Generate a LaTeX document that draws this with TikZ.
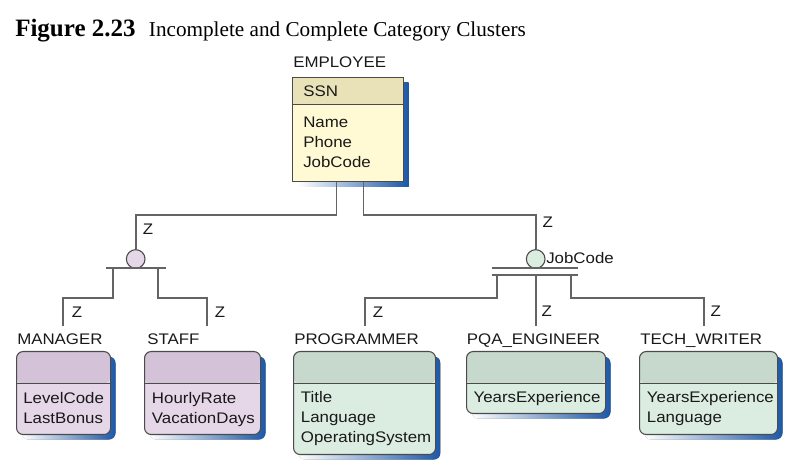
\documentclass[tikz,border=0pt]{standalone}
\usepackage{fontspec}
\setmainfont{Liberation Serif}
\setsansfont{Liberation Sans}[FakeStretch=1.1]
\usetikzlibrary{shadows}
\definecolor{empBody}{RGB}{255,250,212}
\definecolor{empHead}{RGB}{233,226,184}
\definecolor{purBody}{RGB}{229,214,232}
\definecolor{purHead}{RGB}{211,194,216}
\definecolor{grnBody}{RGB}{219,236,224}
\definecolor{grnHead}{RGB}{199,217,204}
\definecolor{edge}{RGB}{75,75,75}
\definecolor{wire}{RGB}{100,100,100}
\definecolor{shadowBlue}{RGB}{28,88,168}
\definecolor{ink}{RGB}{25,25,25}
\tikzset{
  conn/.style={draw=wire, line width=1.3pt},
  head/.style 2 args={
    path picture={
      \fill[#1] (path picture bounding box.north west) rectangle
        ([yshift=-#2]path picture bounding box.north east);
      \draw[edge, line width=0.8pt] ([yshift=-#2]path picture bounding box.north west) --
        ([yshift=-#2]path picture bounding box.north east);
    }},
  blueshadow/.style={drop shadow={shadow xshift=3.75pt, shadow yshift=-3.75pt,
      opacity=1, left color=white, right color=shadowBlue}},
  supbox/.style={draw=edge, line width=0.8pt, anchor=north west, inner sep=0pt,
    fill=empBody, head={empHead}{20.25pt}, blueshadow},
  subbox/.style={draw=edge, line width=0.8pt, anchor=north west, inner sep=0pt,
    rounded corners=5pt, blueshadow},
  purple/.style={subbox, fill=purBody, head={purHead}{24pt}},
  green/.style={subbox, fill=grnBody, head={grnHead}{24pt}},
  etitle/.style={anchor=base west, inner sep=0pt, text=ink,
    font=\fontsize{11.5}{15}\selectfont\sffamily},
  attr/.style={etitle, align=left},
  zlab/.style={inner sep=0pt, text=ink, font=\fontsize{11.5}{15}\selectfont\sffamily},
  cat/.style={circle, draw=edge, line width=0.8pt, minimum size=14pt, inner sep=0pt},
}
\begin{document}
\begin{tikzpicture}[x=0.75pt, y=-0.75pt]
    \useasboundingbox (0,0) rectangle (800,473);

    %title
    \node[anchor=base west, inner sep=0pt] (title) at (15,37)
    {\fontsize{18.75}{20}\selectfont\bfseries Figure 2.23\hspace{10pt}%
     \fontsize{15.9}{18}\selectfont\mdseries Incomplete and Complete Category Clusters};

    %supertype (attr nodes sit on the baseline of their last line)
    \node[supbox, minimum width=83.25pt, minimum height=78pt] (emp) at (292,77) {};
    \node[etitle] (empT) at (293,68) {EMPLOYEE};
    \node[etitle] (empK) at (303,96.7) {SSN};
    \node[attr] (empA) at (303,167.5) {Name\\Phone\\JobCode};

    %subtypes
    \node[purple, minimum width=70.5pt, minimum height=62.25pt] (mgr) at (16,351) {};
    \node[etitle] (mgrT) at (17,345) {MANAGER};
    \node[attr] (mgrA) at (23,424) {LevelCode\\LastBonus};

    \node[purple, minimum width=87pt, minimum height=62.25pt] (stf) at (144,351) {};
    \node[etitle] (stfT) at (147,345) {STAFF};
    \node[attr] (stfA) at (151.7,424) {HourlyRate\\VacationDays};

    \node[green, minimum width=106.5pt, minimum height=77.25pt] (prg) at (293,351) {};
    \node[etitle] (prgT) at (294,345) {PROGRAMMER};
    \node[attr] (prgA) at (300.7,442.7) {Title\\Language\\OperatingSystem};

    \node[green, minimum width=104.25pt, minimum height=46.5pt] (pqa) at (466,351) {};
    \node[etitle] (pqaT) at (466.7,345) {PQA\_ENGINEER};
    \node[attr] (pqaA) at (473.3,402.7) {YearsExperience};

    \node[green, minimum width=103.5pt, minimum height=62.25pt] (tw) at (639,351) {};
    \node[etitle] (twT) at (640,345) {TECH\_WRITER};
    \node[attr] (twA) at (646.7,422.7) {YearsExperience\\Language};

    %category circles
    \node[cat, fill=purBody] (catA) at (135.7,259) {};
    \node[cat, fill=grnBody] (catB) at (535.7,259) {};
    \node[zlab, anchor=west] (disc) at (546,258.3) {JobCode};

    %bars
    \coordinate (barAw) at (106,268.3);
    \coordinate (barAe) at (165.7,268.3);
    \coordinate (barBw) at (491.7,267.7);
    \coordinate (barBe) at (577.7,267.7);
    \coordinate (barCw) at (491.7,275);
    \coordinate (barCe) at (577.7,275);
    \draw[conn] (barAw) -- (barAe);
    \draw[conn] (barBw) -- (barBe);
    \draw[conn] (barCw) -- (barCe);

    %ends above the subtypes
    \coordinate (mgrIn) at (63,326);
    \coordinate (stfIn) at (206.7,326);
    \coordinate (prgIn) at (365,326);
    \coordinate (pqaIn) at (535.7,326);
    \coordinate (twIn) at (704.3,326);

    %connectors
    \draw[conn] ([xshift=-8.6pt]emp.south) -- ++(0,33.3) -| (catA.north);
    \draw[conn] ([xshift=11.6pt]emp.south) -- ++(0,33.3) -| (catB.north);
    \draw[conn] (112.7,268.3) -- (112.7,297.7) -| (mgrIn);
    \draw[conn] (158.3,268.3) -- (158.3,297.7) -| (stfIn);
    \draw[conn] (497.3,275) -- (497.3,297.7) -| (prgIn);
    \draw[conn] (catB.center |- barCw) -- (pqaIn);
    \draw[conn] (571,275) -- (571,297.7) -| (twIn);

    %Z labels
    \node[zlab] (zA) at (148,229) {Z};
    \node[zlab] (zB) at (547.7,222.3) {Z};
    \node[zlab] (zMgr) at (77,312) {Z};
    \node[zlab] (zStf) at (220,312) {Z};
    \node[zlab] (zPrg) at (378,312) {Z};
    \node[zlab] (zPqa) at (546.7,311.7) {Z};
    \node[zlab] (zTw) at (715.7,311.7) {Z};

\end{tikzpicture}
\end{document}
